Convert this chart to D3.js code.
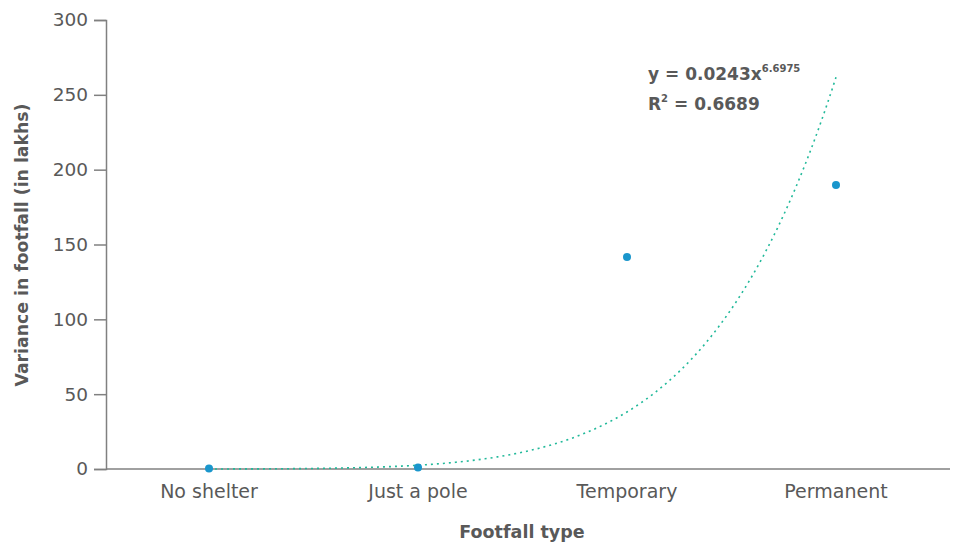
<!DOCTYPE html>
<html>
<head>
<meta charset="utf-8">
<script src="https://cdn.jsdelivr.net/npm/d3@7"></script>
<style>
  body { margin: 0; background: #fff; }
  svg { display: block; font-family: "DejaVu Sans", sans-serif; }
</style>
</head>
<body>
<svg id="chart" width="957" height="547"></svg>
<script>
// Footfall categories and observed variance (in lakhs)
const categories = ["No shelter", "Just a pole", "Temporary", "Permanent"];
const variance = [0.3, 1, 141.6, 189.8];
const yTicks = [0, 50, 100, 150, 200, 250, 300];

// Power trendline y = a * x^b fitted over category index (1..4)
const trendA = 0.0243;
const trendB = 6.6975;
const trendR2 = 0.6689;

const svg = d3.select("#chart");
const margin = { left: 106, top: 20, right: 7, bottom: 78 };

const x = d3.scaleBand().domain(categories).range([104.5, 940.5]).padding(0);
const y = d3.scaleLinear().domain([0, 300]).range([469, 20]);

const textColor = "#595959";
const axisColor = "#808080";
const font = "DejaVu Sans";

// Y axis
const yAxis = svg.append("g").attr("transform", `translate(${margin.left},0)`)
  .call(d3.axisLeft(y).tickValues(yTicks).tickSize(12).tickPadding(6));
yAxis.select(".domain").attr("stroke", axisColor).attr("stroke-width", 1.5);
yAxis.selectAll(".tick line").attr("stroke", axisColor).attr("stroke-width", 1.5);
yAxis.selectAll(".tick text").attr("fill", textColor).style("font-size", "18.5px")
  .style("font-family", font);

// X axis line
svg.append("line").attr("x1", margin.left).attr("x2", 950)
  .attr("y1", y(0)).attr("y2", y(0))
  .attr("stroke", axisColor).attr("stroke-width", 1.5);

// X category labels
svg.append("g").selectAll("text").data(categories).join("text")
  .attr("x", d => x(d) + x.bandwidth() / 2)
  .attr("y", 498)
  .attr("text-anchor", "middle")
  .attr("fill", textColor)
  .style("font-size", "19px")
  .text(d => d);

// Axis titles
svg.append("text")
  .attr("x", 522).attr("y", 538)
  .attr("text-anchor", "middle")
  .attr("fill", textColor)
  .style("font-size", "17.5px").style("font-weight", 700)
  .text("Footfall type");

svg.append("text")
  .attr("transform", `translate(28,245) rotate(-90)`)
  .attr("text-anchor", "middle")
  .attr("fill", textColor)
  .style("font-size", "17.3px").style("font-weight", 700)
  .text("Variance in footfall (in lakhs)");

// Trendline
const xIdx = d3.scaleLinear().domain([1, categories.length])
  .range([x(categories[0]) + x.bandwidth() / 2, x(categories[categories.length - 1]) + x.bandwidth() / 2]);
const trendPts = d3.range(1, 4.0001, 0.02).map(t => [t, trendA * Math.pow(t, trendB)]);
svg.append("path")
  .datum(trendPts)
  .attr("fill", "none")
  .attr("stroke", "#22b99a")
  .attr("stroke-width", 1.6)
  .attr("stroke-dasharray", "2,4")
  .attr("d", d3.line().x(d => xIdx(d[0])).y(d => y(d[1])));

// Data points
svg.append("g").selectAll("circle").data(variance).join("circle")
  .attr("cx", (d, i) => x(categories[i]) + x.bandwidth() / 2)
  .attr("cy", d => y(d))
  .attr("r", 4)
  .attr("fill", "#1a96cc");

// Trendline equation
const eq = svg.append("text").attr("x", 648).attr("y", 80)
  .attr("fill", textColor).style("font-size", "17px").style("font-weight", 700);
eq.append("tspan").text(`y = ${trendA}x`);
eq.append("tspan").attr("dy", -8).style("font-size", "10px").text(trendB);

const r2 = svg.append("text").attr("x", 648).attr("y", 110)
  .attr("fill", textColor).style("font-size", "17px").style("font-weight", 700);
r2.append("tspan").text("R");
r2.append("tspan").attr("dy", -8).style("font-size", "10px").text("2");
r2.append("tspan").attr("dy", 8).text(` = ${trendR2}`);
</script>
</body>
</html>
